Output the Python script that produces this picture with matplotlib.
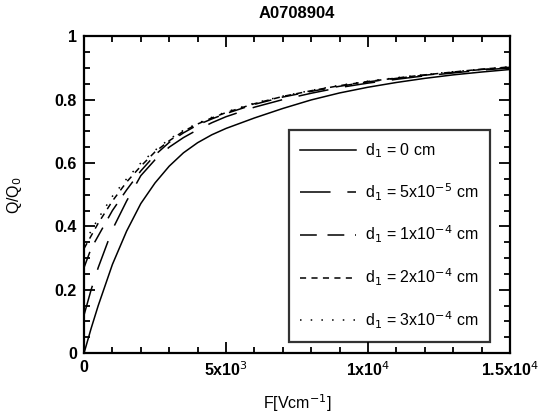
import matplotlib
matplotlib.use("Agg")
import matplotlib.pyplot as plt
from matplotlib.ticker import MultipleLocator, FixedLocator

plt.rcParams['font.family'] = ['Liberation Sans', 'DejaVu Sans']

# Applied field F [V/cm]
field = [0, 250, 500, 1000, 1500, 2000, 2500, 3000, 3500, 4000, 4500, 5000, 6000,
         7000, 8000, 9000, 10000, 11000, 12000, 13000, 14000, 15000]

# Collected charge fraction Q/Q0 for each dead-layer thickness d1
q_d0 = [0.0, 0.078, 0.15, 0.28, 0.385, 0.472, 0.537, 0.59, 0.632, 0.664, 0.689,
        0.709, 0.742, 0.772, 0.799, 0.821, 0.839, 0.854, 0.867, 0.878, 0.887, 0.895]
q_d5e5 = [0.12, 0.2, 0.27, 0.39, 0.48, 0.56, 0.61, 0.65, 0.68, 0.705, 0.727,
          0.746, 0.776, 0.8, 0.82, 0.838, 0.852, 0.864, 0.875, 0.884, 0.893, 0.9]
q_d1e4 = [0.27, 0.33, 0.37, 0.45, 0.515, 0.575, 0.625, 0.665, 0.695, 0.72, 0.739,
          0.756, 0.785, 0.808, 0.826, 0.842, 0.856, 0.867, 0.877, 0.886, 0.895, 0.902]
q_d2e4 = [0.33, 0.37, 0.41, 0.48, 0.54, 0.59, 0.635, 0.67, 0.7, 0.723, 0.742,
          0.759, 0.787, 0.81, 0.828, 0.844, 0.857, 0.868, 0.878, 0.887, 0.896, 0.903]
q_d3e4 = [0.35, 0.385, 0.425, 0.495, 0.55, 0.6, 0.64, 0.675, 0.703, 0.725, 0.744,
          0.761, 0.789, 0.811, 0.829, 0.845, 0.858, 0.869, 0.879, 0.888, 0.896, 0.903]

labels = [r'd$_1$ = 0 cm',
          r'd$_1$ = 5x10$^{-5}$ cm',
          r'd$_1$ = 1x10$^{-4}$ cm',
          r'd$_1$ = 2x10$^{-4}$ cm',
          r'd$_1$ = 3x10$^{-4}$ cm']

x_ticks = [0, 5000, 10000, 15000]
x_ticklabels = ['0', r'5x10$^3$', r'1x10$^4$', r'1.5x10$^4$']
y_ticks = [0, 0.2, 0.4, 0.6, 0.8, 1.0]
y_ticklabels = ['0', '0.2', '0.4', '0.6', '0.8', '1']

series = [q_d0, q_d5e5, q_d1e4, q_d2e4, q_d3e4]
dash_styles = ['-', (0, (20, 11)), (0, (11, 7)), (0, (4, 3.5)), (0, (1, 6))]

fig = plt.figure(figsize=(5.42, 4.16), dpi=100)
ax = fig.add_axes([0.155, 0.151, 0.786, 0.762])

for q, ls, lab in zip(series, dash_styles, labels):
    ax.plot(field, q, color='black', lw=1.1, linestyle=ls, label=lab)

ax.set_xlim(0, 15000)
ax.set_ylim(0, 1)
ax.xaxis.set_major_locator(FixedLocator(x_ticks))
ax.set_xticklabels(x_ticklabels)
ax.xaxis.set_minor_locator(MultipleLocator(1000))
ax.yaxis.set_major_locator(FixedLocator(y_ticks))
ax.set_yticklabels(y_ticklabels)
ax.yaxis.set_minor_locator(MultipleLocator(0.05))

ax.tick_params(which='both', direction='in', top=True, right=True,
               width=1.3, labelsize=11.5)
ax.tick_params(which='major', length=8, pad=5)
ax.tick_params(which='minor', length=4)
for lbl in ax.get_xticklabels() + ax.get_yticklabels():
    lbl.set_fontweight('bold')
for sp in ax.spines.values():
    sp.set_linewidth(1.6)

ax.set_xlabel(r'F[Vcm$^{-1}$]', fontsize=11.5, labelpad=10)
ax.set_ylabel(r'Q/Q$_0$', fontsize=11.5, labelpad=22)
ax.set_title('A0708904', fontsize=12, fontweight='bold', pad=13)

leg = ax.legend(loc='lower right', bbox_to_anchor=(0.953, 0.035),
                borderaxespad=0.0,
                frameon=True, fancybox=False, edgecolor='black',
                fontsize=11.5, handlelength=3.5, labelspacing=1.33,
                borderpad=0.72, handletextpad=0.55)
leg.get_frame().set_linewidth(1.6)

fig.savefig('out.png', dpi=100)
